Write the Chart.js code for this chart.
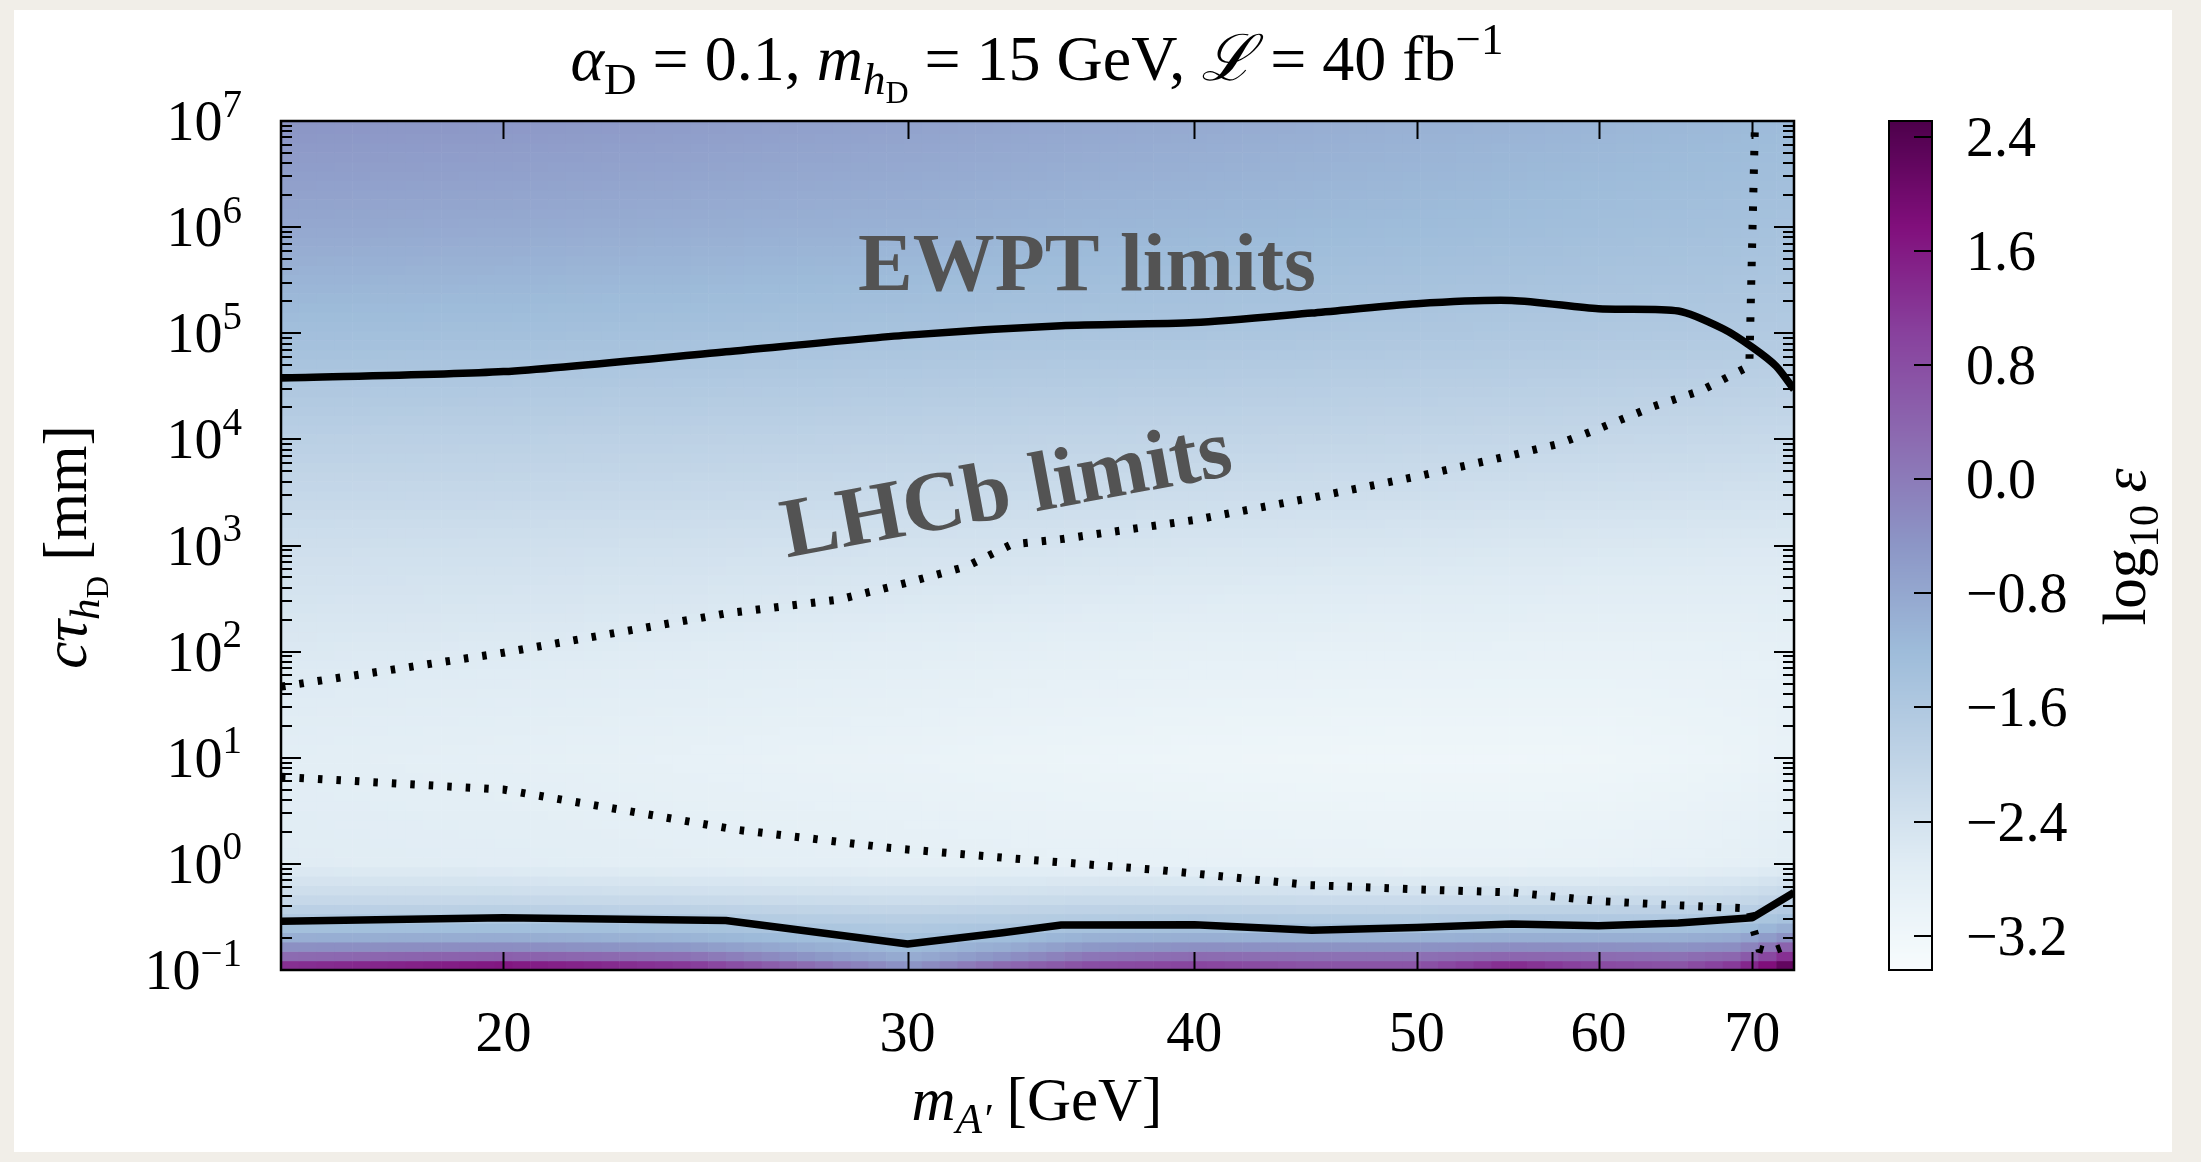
<!DOCTYPE html>
<html><head><meta charset="utf-8">
<script src="https://cdn.jsdelivr.net/npm/chart.js@4.4.1/dist/chart.umd.min.js"></script>
<style>html,body{margin:0;padding:0;background:#f1eee8;overflow:hidden}canvas{display:block}</style>
</head><body>
<canvas id="c" width="2201" height="1162"></canvas>
<script>
// ================= DATA =================
// heat-map nodes: dark-photon mass (GeV) and log10(c tau / mm)
const massNodes = [16, 20, 24, 27, 30, 33, 36, 40, 45, 50, 55, 60, 65, 69, 71, 73];
const logCtauNodes = [-0.96, -0.87, -0.78, -0.69, -0.60, -0.51, -0.3, 0, 1, 2, 3, 4, 5, 6, 7];
const eps_ctau_m0_96 = [1.3, 1.7, 1.2, 0.3, -0.45, 0.3, 0.8, 1.0, 0.7, 0.7, 1.4, 0.9, 0.7, 1.2, 1.8, 2.45];
const eps_ctau_m0_87 = [0.3, 0.5, 0.2, -0.4, -0.9, -0.4, 0.1, 0.3, 0.2, 0.2, 0.4, 0.3, 0.2, 0.4, 0.9, 1.5];
const eps_ctau_m0_78 = [-0.35, -0.3, -0.5, -0.9, -1.2, -0.9, -0.5, -0.35, -0.4, -0.4, -0.3, -0.35, -0.4, -0.3, 0.1, 0.6];
const eps_ctau_m0_69 = [-0.95, -0.9, -1.05, -1.25, -1.4, -1.25, -1.0, -0.95, -1.0, -1.0, -0.95, -0.95, -0.95, -0.85, -0.6, -0.3];
const eps_ctau_m0_60 = [-1.35, -1.3, -1.4, -1.5, -1.6, -1.5, -1.4, -1.35, -1.4, -1.4, -1.35, -1.35, -1.35, -1.3, -1.1, -0.9];
const eps_ctau_m0_51 = [-1.65, -1.6, -1.65, -1.75, -1.8, -1.75, -1.7, -1.65, -1.7, -1.7, -1.65, -1.65, -1.65, -1.6, -1.5, -1.4];
const eps_ctau_m0_30 = [-2.2, -2.2, -2.25, -2.3, -2.35, -2.3, -2.25, -2.25, -2.3, -2.3, -2.3, -2.28, -2.25, -2.2, -2.1, -2.0];
const eps_ctau_0 = [-2.7, -2.75, -2.8, -2.82, -2.85, -2.87, -2.9, -2.92, -2.95, -2.97, -2.97, -2.95, -2.9, -2.85, -2.8, -2.75];
const eps_ctau_1 = [-2.78, -2.85, -2.92, -2.97, -3.0, -3.05, -3.08, -3.12, -3.15, -3.17, -3.17, -3.15, -3.1, -3.05, -3.0, -2.95];
const eps_ctau_2 = [-2.6, -2.65, -2.7, -2.75, -2.78, -2.82, -2.85, -2.88, -2.9, -2.92, -2.93, -2.94, -2.93, -2.92, -2.9, -2.88];
const eps_ctau_3 = [-2.3, -2.32, -2.35, -2.38, -2.4, -2.42, -2.45, -2.48, -2.5, -2.52, -2.55, -2.57, -2.58, -2.6, -2.6, -2.6];
const eps_ctau_4 = [-1.85, -1.87, -1.9, -1.92, -1.94, -1.96, -1.98, -2.0, -2.02, -2.04, -2.06, -2.08, -2.1, -2.12, -2.13, -2.14];
const eps_ctau_5 = [-1.3, -1.33, -1.37, -1.4, -1.43, -1.46, -1.48, -1.5, -1.53, -1.56, -1.58, -1.6, -1.62, -1.64, -1.65, -1.66];
const eps_ctau_6 = [-0.8, -0.85, -0.92, -0.97, -1.0, -1.05, -1.1, -1.13, -1.18, -1.22, -1.26, -1.3, -1.33, -1.36, -1.38, -1.4];
const eps_ctau_7 = [-0.45, -0.5, -0.58, -0.65, -0.7, -0.75, -0.8, -0.85, -0.92, -0.98, -1.03, -1.08, -1.12, -1.16, -1.18, -1.2];

// contours (mass in GeV, c tau in mm)
const ewptMass = [16, 20, 25, 30, 35, 40, 45, 50, 55, 60, 65, 68, 70, 71.7, 73];
const ewptCtau = [37800, 43500, 67000, 96000, 117500, 126000, 155000, 190000, 204000, 170000, 162000, 110000, 74000, 49000, 29500];
const lowSolidMass = [16, 20, 25, 30, 33, 35, 40, 45, 50, 55, 60, 65, 70, 73];
const lowSolidCtau = [0.288, 0.311, 0.293, 0.176, 0.224, 0.265, 0.267, 0.237, 0.251, 0.272, 0.261, 0.277, 0.311, 0.537];
const lhcbUpMass = [16, 20, 25, 28, 30, 31.8, 33.3, 35, 40, 45, 50, 55, 57.7, 60, 63.4, 66.5, 69.8, 70.2];
const lhcbUpCtau = [46.8, 97.7, 229, 309, 447, 631, 1023, 1148, 1738, 2818, 4467, 7079, 9120, 12590, 20420, 28840, 48980, 1e7];
const lhcbLoMass = [16, 20, 25.3, 29.5, 33.4, 38.7, 44.9, 50, 55.1, 60, 65, 69.8, 70.1, 70.5, 71.3, 72.3, 73];
const lhcbLoCtau = [6.61, 5.01, 2.09, 1.41, 1.12, 0.871, 0.631, 0.575, 0.537, 0.447, 0.407, 0.380, 0.240, 0.158, 0.148, 0.166, 0.182];

// axes / ticks
const massTicks = [20, 30, 40, 50, 60, 70];
const ctauExponents = [-1, 0, 1, 2, 3, 4, 5, 6, 7];
const cbTicks = [-3.2, -2.4, -1.6, -0.8, 0.0, 0.8, 1.6, 2.4];
const CB_MIN = -3.44, CB_MAX = 2.51;

// ================= HELPERS =================
const epsRows = [eps_ctau_m0_96, eps_ctau_m0_87, eps_ctau_m0_78, eps_ctau_m0_69, eps_ctau_m0_60, eps_ctau_m0_51,
  eps_ctau_m0_30, eps_ctau_0, eps_ctau_1, eps_ctau_2, eps_ctau_3, eps_ctau_4, eps_ctau_5, eps_ctau_6, eps_ctau_7];
const logMassNodes = massNodes.map(Math.log10);
const BUPU = [[247,252,253],[224,236,244],[191,211,230],[158,188,218],[140,150,198],[140,107,177],[136,65,157],[129,15,124],[77,0,75]];
function cmap(v){
  let f = (v - CB_MIN) / (CB_MAX - CB_MIN); f = Math.max(0, Math.min(1, f));
  const p = f * 8, i = Math.min(7, Math.floor(p)), t = p - i;
  const a = BUPU[i], b = BUPU[i+1];
  return 'rgb(' + [0,1,2].map(k => Math.round(a[k] + (b[k]-a[k])*t)).join(',') + ')';
}
function locate(nodes, v){
  if (v <= nodes[0]) return [0, 0];
  for (let i = 0; i < nodes.length - 1; i++) if (v <= nodes[i+1]) return [i, (v - nodes[i]) / (nodes[i+1] - nodes[i])];
  return [nodes.length - 2, 1];
}
function epsAt(mass, ctau){
  const [i, tx] = locate(logMassNodes, Math.log10(mass));
  const [j, ty] = locate(logCtauNodes, Math.log10(ctau));
  const r0 = epsRows[j], r1 = epsRows[j+1];
  const a = r0[i] + (r0[i+1]-r0[i])*tx, b = r1[i] + (r1[i+1]-r1[i])*tx;
  return a + (b - a) * ty;
}
const SERIF = '"Liberation Serif", "DejaVu Serif", serif';
function drawRich(ctx, segs, x, y, align, size){
  let W = 0;
  const ms = segs.map(s => {
    const f = (s.it ? 'italic ' : '') + (s.b ? 'bold ' : '') + Math.round(size * (s.sc || 1)) + 'px ' + SERIF;
    ctx.font = f; const w = ctx.measureText(s.t).width + (s.gap || 0) * size; W += w; return {f, w};
  });
  let cx = align === 'center' ? x - W/2 : align === 'right' ? x - W : x;
  ctx.textAlign = 'left'; ctx.textBaseline = 'alphabetic';
  segs.forEach((s, k) => { ctx.font = ms[k].f; ctx.fillText(s.t, cx, y + (s.dy || 0) * size); cx += ms[k].w; });
}
function pts(xs, ys){ return xs.map((x, i) => ({x, y: ys[i]})); }

// ================= PLUGIN =================
const deco = {
  id: 'deco',
  beforeDraw(chart){
    const c = chart.ctx;
    c.save(); c.fillStyle = '#f1eee8'; c.fillRect(0, 0, chart.width, chart.height);
    c.fillStyle = '#ffffff'; c.fillRect(14, 10, 2158, 1142); c.restore();
  },
  beforeDatasetsDraw(chart){
    const c = chart.ctx, a = chart.chartArea, sx = chart.scales.x, sy = chart.scales.y;
    c.save(); c.beginPath(); c.rect(a.left, a.top, a.right - a.left, a.bottom - a.top); c.clip();
    const bw = 17.8, bh = 9.4;
    for (let py = a.bottom; py > a.top; py -= bh) {
      const ctau = sy.getValueForPixel(py - bh/2);
      for (let px = a.left; px < a.right; px += bw) {
        const m = sx.getValueForPixel(px + bw/2);
        c.fillStyle = cmap(epsAt(m, ctau));
        c.fillRect(px, py - bh, bw + 0.6, bh + 0.6);
      }
    }
    c.restore();
  },
  afterDatasetsDraw(chart){
    const c = chart.ctx, a = chart.chartArea, sx = chart.scales.x, sy = chart.scales.y, cb = chart.scales.cb;
    c.save();
    c.strokeStyle = '#000'; c.lineWidth = 2;
    // y ticks (inside, both sides)
    c.beginPath();
    for (let e = -1; e <= 7; e++) for (let m = 1; m <= 9; m++) {
      const v = m * Math.pow(10, e); if (v < 0.1 - 1e-9 || v > 1e7 + 1) continue;
      const py = Math.round(sy.getPixelForValue(v)); const len = m === 1 ? 20 : 11;
      c.moveTo(a.left, py); c.lineTo(a.left + len, py);
      c.moveTo(a.right, py); c.lineTo(a.right - len, py);
    }
    for (const t of massTicks) {
      const px = Math.round(sx.getPixelForValue(t)) + 0.5;
      c.moveTo(px, a.bottom); c.lineTo(px, a.bottom - 18);
      c.moveTo(px, a.top); c.lineTo(px, a.top + 18);
    }
    c.stroke();
    c.lineWidth = 2.5; c.strokeRect(a.left, a.top, a.right - a.left, a.bottom - a.top);
    // tick labels
    c.fillStyle = '#000';
    const FS = 56, LS = 61;
    for (const e of ctauExponents) {
      const py = sy.getPixelForValue(Math.pow(10, e));
      drawRich(c, [{t: '10'}, {t: e < 0 ? '\u2212' + (-e) : String(e), sc: 0.7, dy: -0.42}], 242, py + 0.34*FS, 'right', FS);
    }
    for (const t of massTicks) {
      const px = sx.getPixelForValue(t);
      drawRich(c, [{t: String(t)}], px, 1051, 'center', FS);
    }
    // title
    drawRich(c, [
      {t: '\u03b1', it: 1}, {t: 'D', sc: 0.7, dy: 0.22}, {t: ' = 0.1, '},
      {t: 'm', it: 1}, {t: 'h', it: 1, sc: 0.7, dy: 0.22}, {t: 'D', sc: 0.5, dy: 0.36}, {t: ' = 15 GeV, '},
      {t: '\u2112', it: 1}, {t: ' = 40 fb'}, {t: '\u22121', sc: 0.7, dy: -0.4}
    ], 1037, 80, 'center', 64);
    // x label
    drawRich(c, [{t: 'm', it: 1}, {t: 'A\u2032', it: 1, sc: 0.7, dy: 0.22}, {t: ' [GeV]'}], 1037, 1120, 'center', LS);
    // y label
    c.save(); c.translate(86, 547); c.rotate(-Math.PI/2);
    drawRich(c, [{t: 'c\u03c4', it: 1}, {t: 'h', it: 1, sc: 0.7, dy: 0.22}, {t: 'D', sc: 0.5, dy: 0.36}, {t: ' [mm]'}], 0, 0, 'center', LS);
    c.restore();
    // annotations
    c.fillStyle = '#535353';
    drawRich(c, [{t: 'EWPT limits', b: 1}], 1087, 290, 'center', 82);
    c.save(); c.translate(1011, 516); c.rotate(-10.5 * Math.PI / 180);
    drawRich(c, [{t: 'LHCb limits', b: 1}], 0, 0, 'center', 85);
    c.restore();
    // colorbar
    const cx0 = 1889, cx1 = 1932;
    for (let py = Math.floor(a.top); py < a.bottom; py++) {
      c.fillStyle = cmap(cb.getValueForPixel(py + 0.5)); c.fillRect(cx0, py, cx1 - cx0, 1);
    }
    c.strokeStyle = '#000'; c.lineWidth = 2; c.strokeRect(cx0, a.top, cx1 - cx0, a.bottom - a.top);
    c.beginPath();
    for (const t of cbTicks) { const py = Math.round(cb.getPixelForValue(t)); c.moveTo(cx1, py); c.lineTo(cx1 - 18, py); }
    c.stroke();
    c.fillStyle = '#000';
    for (const t of cbTicks) {
      const py = cb.getPixelForValue(t);
      const s = (t < 0 ? '\u2212' : '') + Math.abs(t).toFixed(1);
      drawRich(c, [{t: s}], 1966, py + 0.34*FS, 'left', FS);
    }
    c.save(); c.translate(2145, 547); c.rotate(-Math.PI/2);
    drawRich(c, [{t: 'log'}, {t: '10', sc: 0.7, dy: 0.22}, {t: '\u2009'}, {t: '\u03b5', it: 1}], 0, 0, 'center', LS);
    c.restore();
    c.restore();
  }
};

const solid = {borderColor: '#000', borderWidth: 7.5, pointRadius: 0, showLine: true, fill: false, clip: 0, tension: 0, borderJoinStyle: 'round'};
const dotted = Object.assign({}, solid, {borderWidth: 8, borderDash: [4.5, 14], borderCapStyle: 'butt', borderJoinStyle: 'miter'});

new Chart(document.getElementById('c'), {
  type: 'scatter',
  data: { datasets: [
    Object.assign({label: 'EWPT upper', data: pts(ewptMass, ewptCtau)}, solid, {tension: 0.25}),
    Object.assign({label: 'EWPT lower', data: pts(lowSolidMass, lowSolidCtau)}, solid),
    Object.assign({label: 'LHCb upper', data: pts(lhcbUpMass, lhcbUpCtau)}, dotted),
    Object.assign({label: 'LHCb lower', data: pts(lhcbLoMass, lhcbLoCtau)}, dotted)
  ]},
  options: {
    responsive: false, animation: false, devicePixelRatio: 1, events: [],
    layout: {padding: {left: 281, top: 121, right: 407, bottom: 192}},
    plugins: {legend: {display: false}, tooltip: {enabled: false}, title: {display: false}},
    scales: {
      x: {type: 'logarithmic', min: 16, max: 73, display: false},
      y: {type: 'logarithmic', min: 0.1, max: 1e7, display: false},
      cb: {type: 'linear', axis: 'y', min: CB_MIN, max: CB_MAX, display: false}
    }
  },
  plugins: [deco]
});
</script>
</body></html>
